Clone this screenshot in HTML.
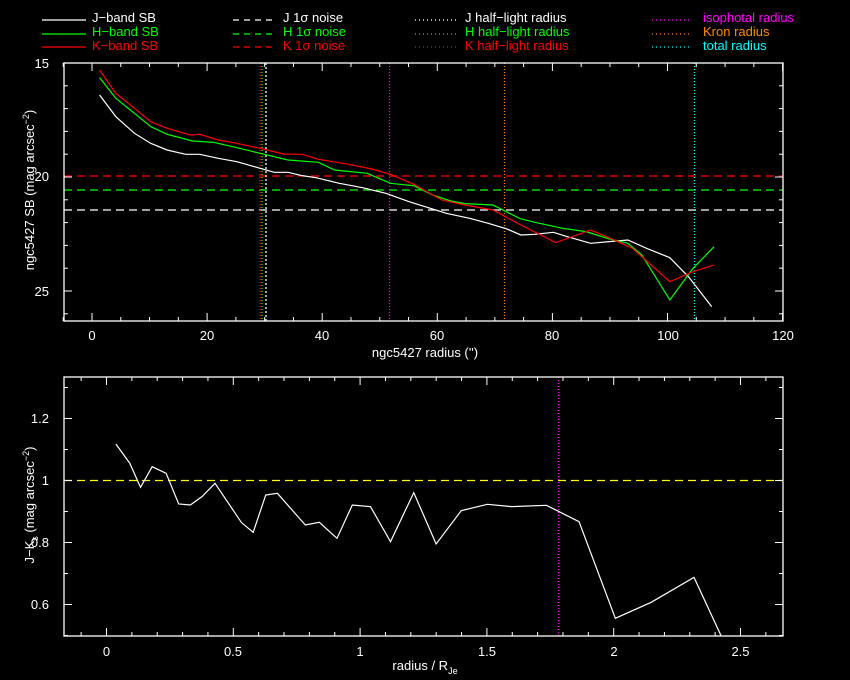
<!DOCTYPE html>
<html><head><meta charset="utf-8"><style>
body{margin:0;background:#000;width:850px;height:680px;overflow:hidden}
svg{display:block}
text{font-family:"Liberation Sans",sans-serif;font-size:13px}
</style></head><body>
<svg id="s" width="850" height="680" xmlns="http://www.w3.org/2000/svg">
<rect width="850" height="680" fill="#000"/>
<g stroke-width="1.3">
<line x1="42" y1="20" x2="86" y2="20" stroke="#fff"/>
<line x1="42" y1="34" x2="86" y2="34" stroke="#0f0"/>
<line x1="42" y1="47" x2="86" y2="47" stroke="#f00"/>
<line x1="233" y1="20" x2="272" y2="20" stroke="#fff" stroke-dasharray="6,5"/>
<line x1="233" y1="34" x2="272" y2="34" stroke="#0f0" stroke-dasharray="6,5"/>
<line x1="233" y1="47" x2="272" y2="47" stroke="#f00" stroke-dasharray="6,5"/>
<line x1="415" y1="20" x2="456" y2="20" stroke="#fff" stroke-dasharray="1,3"/>
<line x1="415" y1="34" x2="456" y2="34" stroke="#0f0" stroke-dasharray="1,3"/>
<line x1="415" y1="47" x2="456" y2="47" stroke="#f00" stroke-dasharray="1,3"/>
<line x1="652" y1="20" x2="692" y2="20" stroke="#f0f" stroke-dasharray="1,3"/>
<line x1="652" y1="34" x2="692" y2="34" stroke="#f80" stroke-dasharray="1,3"/>
<line x1="652" y1="47" x2="692" y2="47" stroke="#0ff" stroke-dasharray="1,3"/>
</g>
<text x="92" y="22" fill="#fff">J−band SB</text>
<text x="92" y="36" fill="#0f0">H−band SB</text>
<text x="92" y="50" fill="#f00">K−band SB</text>
<text x="283" y="22" fill="#fff">J 1σ noise</text>
<text x="283" y="36" fill="#0f0">H 1σ noise</text>
<text x="283" y="50" fill="#f00">K 1σ noise</text>
<text x="465" y="22" fill="#fff">J half−light radius</text>
<text x="465" y="36" fill="#0f0">H half−light radius</text>
<text x="465" y="50" fill="#f00">K half−light radius</text>
<text x="703" y="22" fill="#f0f">isophotal radius</text>
<text x="703" y="36" fill="#f80">Kron radius</text>
<text x="703" y="50" fill="#0ff">total radius</text>

<g stroke-width="1.3">
<line x1="64" y1="176" x2="783" y2="176" stroke="#f00" stroke-dasharray="8,5"/>
<line x1="64" y1="190" x2="783" y2="190" stroke="#0f0" stroke-dasharray="8,5"/>
<line x1="64" y1="210" x2="783" y2="210" stroke="#fff" stroke-dasharray="8,5"/>
<line x1="260" y1="63" x2="260" y2="321" stroke="#f00" stroke-dasharray="1,2"/>
<line x1="262" y1="63" x2="262" y2="321" stroke="#0f0" stroke-dasharray="1,2"/>
<line x1="266" y1="63" x2="266" y2="321" stroke="#fff" stroke-dasharray="2,2"/>
<line x1="389.5" y1="63" x2="389.5" y2="321" stroke="#f0f" stroke-dasharray="1,2"/>
<line x1="504.5" y1="63" x2="504.5" y2="321" stroke="#f80" stroke-dasharray="1,2"/>
<line x1="694.5" y1="63" x2="694.5" y2="321" stroke="#0ff" stroke-dasharray="1,2"/>
</g>
<g transform="translate(60,55) scale(0.4655,0.3333)" fill="none" stroke-width="1.2">
<polyline vector-effect="non-scaling-stroke" stroke="#fff" points="85,120 120,185 160,235 195,265 230,285 270,298 300,298 340,310 380,320 430,340 460,352 490,352 520,362 550,368 600,385 650,398 700,415 750,440 800,462 830,475 880,490 920,505 960,522 990,540 1020,538 1060,532 1090,545 1140,565 1180,560 1220,555 1260,580 1310,608 1350,665 1400,755"/>
<polyline vector-effect="non-scaling-stroke" stroke="#0f0" points="85,68 120,130 160,175 195,215 230,238 285,258 330,262 380,278 430,295 460,305 490,315 555,322 590,345 660,355 710,385 760,392 800,420 840,438 870,446 930,450 990,492 1030,505 1080,520 1130,530 1180,552 1220,565 1250,600 1310,735 1360,640 1405,575"/>
<polyline vector-effect="non-scaling-stroke" stroke="#f00" points="85,45 120,115 160,160 195,200 230,220 280,240 300,238 340,255 380,265 430,280 480,297 520,298 555,313 620,328 670,342 710,358 760,388 820,435 870,450 930,465 990,510 1065,563 1140,525 1190,555 1230,580 1310,680 1360,650 1405,630"/>
</g>
<rect x="64" y="63" width="719" height="258" fill="none" stroke="#fff" stroke-width="1.3"/>
<g id="tt" stroke="#fff" stroke-width="1"></g>
<g fill="#fff">
<text x="49" y="68" text-anchor="end">15</text>
<text x="49" y="181" text-anchor="end">20</text>
<text x="49" y="296" text-anchor="end">25</text>
<text x="92" y="340" text-anchor="middle">0</text>
<text x="207" y="340" text-anchor="middle">20</text>
<text x="322" y="340" text-anchor="middle">40</text>
<text x="437" y="340" text-anchor="middle">60</text>
<text x="552" y="340" text-anchor="middle">80</text>
<text x="668" y="340" text-anchor="middle">100</text>
<text x="783" y="340" text-anchor="middle">120</text>
<text x="425" y="357" text-anchor="middle">ngc5427 radius ('')</text>
<text transform="translate(34,190) rotate(-90)" text-anchor="middle">ngc5427 SB (mag arcsec<tspan dy="-5" font-size="9">−2</tspan><tspan dy="5">)</tspan></text>
</g>

<line x1="64" y1="480.5" x2="783" y2="480.5" stroke="#ff0" stroke-width="1.3" stroke-dasharray="8,5"/>
<line x1="558.5" y1="377" x2="558.5" y2="636" stroke="#f0f" stroke-width="1.3" stroke-dasharray="1,2"/>
<g transform="translate(60,370) scale(0.4655,0.3333)" fill="none">
<polyline vector-effect="non-scaling-stroke" stroke="#fff" stroke-width="1.2" points="120,222 150,280 173,352 198,290 228,310 255,402 280,405 305,380 333,340 390,458 415,487 442,375 467,370 527,465 557,457 595,505 628,405 667,410 710,515 760,368 808,522 862,422 918,403 970,410 1045,406 1115,455 1193,745 1270,697 1362,622 1420,797"/>
</g>
<rect x="64" y="377" width="719" height="259" fill="none" stroke="#fff" stroke-width="1.3"/>
<g id="bt" stroke="#fff" stroke-width="1"></g>
<g fill="#fff">
<text x="49" y="423" text-anchor="end">1.2</text>
<text x="49" y="485" text-anchor="end">1</text>
<text x="49" y="547" text-anchor="end">0.8</text>
<text x="49" y="609" text-anchor="end">0.6</text>
<text x="106.5" y="656" text-anchor="middle">0</text>
<text x="233" y="656" text-anchor="middle">0.5</text>
<text x="360" y="656" text-anchor="middle">1</text>
<text x="487" y="656" text-anchor="middle">1.5</text>
<text x="614" y="656" text-anchor="middle">2</text>
<text x="740.5" y="656" text-anchor="middle">2.5</text>
<text x="425" y="670" text-anchor="middle">radius / R<tspan dy="4" font-size="9">Je</tspan></text>
<text transform="translate(34,505) rotate(-90)" text-anchor="middle">J−K<tspan dy="4" font-size="9">s</tspan><tspan dy="-4"> (mag arcsec</tspan><tspan dy="-5" font-size="9">−2</tspan><tspan dy="5">)</tspan></text>
</g>
</svg>
<script>
var NS="http://www.w3.org/2000/svg";
function L(g,x1,y1,x2,y2){var l=document.createElementNS(NS,"line");l.setAttribute("x1",x1);l.setAttribute("y1",y1);l.setAttribute("x2",x2);l.setAttribute("y2",y2);g.appendChild(l);}
var tt=document.getElementById("tt");
for(var v=-5;v<=120;v+=5){var x=92+v*5.755;var m=(v%20==0)?8:4;L(tt,x,63,x,63+m);L(tt,x,321,x,321-m);}
for(var v=15;v<=26;v++){var y=63+(v-15)*22.8;var m=(v%5==0)?8:4;L(tt,64,y,64+m,y);L(tt,783,y,783-m,y);}
var bt=document.getElementById("bt");
for(var i=-1;i<=26;i++){var v=i/10;var x=106.5+v*253.6;if(x<64||x>783)continue;var m=(i%5==0)?8:4;L(bt,x,377,x,377+m);L(bt,x,636,x,636-m);}
for(var i=5;i<=13;i++){var y=480.5-(i/10-1)*310;var m=(i%2==0)?8:4;L(bt,64,y,64+m,y);L(bt,783,y,783-m,y);}
</script>
</body></html>
